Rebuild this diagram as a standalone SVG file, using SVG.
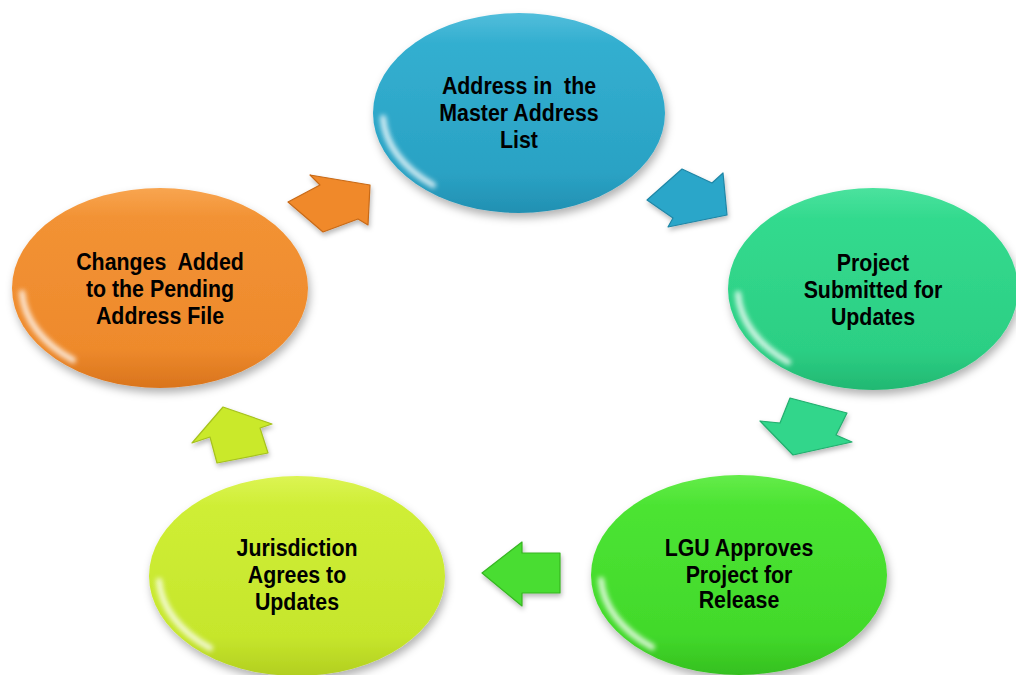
<svg xmlns="http://www.w3.org/2000/svg" width="1016" height="675" viewBox="0 0 1016 675">
<defs>
<filter id="shadow" x="-20%" y="-20%" width="140%" height="150%">
<feDropShadow dx="2" dy="5" stdDeviation="4" flood-color="#000" flood-opacity="0.3"/>
</filter>
<filter id="ashadow" x="-30%" y="-30%" width="160%" height="170%">
<feDropShadow dx="1" dy="3" stdDeviation="2.5" flood-color="#000" flood-opacity="0.28"/>
</filter>
<filter id="glow" x="-20%" y="-20%" width="140%" height="140%">
<feGaussianBlur stdDeviation="2.5"/>
</filter>
<linearGradient id="gBlue" x1="0" y1="0" x2="0" y2="1">
<stop offset="0" stop-color="#52BEDB"/><stop offset="0.15" stop-color="#33AFD0"/><stop offset="0.8" stop-color="#2AA2C4"/><stop offset="1" stop-color="#2290B2"/>
</linearGradient>
<linearGradient id="gTeal" x1="0" y1="0" x2="0" y2="1">
<stop offset="0" stop-color="#4BE29E"/><stop offset="0.15" stop-color="#33DA8E"/><stop offset="0.8" stop-color="#2CCF84"/><stop offset="1" stop-color="#22B872"/>
</linearGradient>
<linearGradient id="gGreen" x1="0" y1="0" x2="0" y2="1">
<stop offset="0" stop-color="#64EC4A"/><stop offset="0.15" stop-color="#4CE433"/><stop offset="0.8" stop-color="#42D92B"/><stop offset="1" stop-color="#35C01F"/>
</linearGradient>
<linearGradient id="gYellow" x1="0" y1="0" x2="0" y2="1">
<stop offset="0" stop-color="#DCF454"/><stop offset="0.15" stop-color="#CFEE35"/><stop offset="0.8" stop-color="#C6E62C"/><stop offset="1" stop-color="#B2CF20"/>
</linearGradient>
<linearGradient id="gOrange" x1="0" y1="0" x2="0" y2="1">
<stop offset="0" stop-color="#F8A550"/><stop offset="0.15" stop-color="#F29234"/><stop offset="0.8" stop-color="#EE8A2C"/><stop offset="1" stop-color="#D9741C"/>
</linearGradient>
<style>
.lbl{font-family:"Liberation Sans",Arial,sans-serif;font-weight:bold;font-size:24px;fill:#000;text-anchor:middle}
.hl{fill:none;stroke:#fff;stroke-width:6;stroke-linecap:round;opacity:0.8}
.arr{stroke-width:1.2;stroke-linejoin:round}
</style>
</defs>
<rect width="1016" height="675" fill="#fff"/>

<g id="connectors">
<polygon class="arr" filter="url(#ashadow)" fill="#F0892A" stroke="#C86A18" points="288,202 320,185 310,175 370,185 368,225 358,219 323,232"/>
<polygon class="arr" filter="url(#ashadow)" fill="#2CA6C9" stroke="#1F86A6" points="647,200 682,169 712,183 723,173 727,215 668,227 673,218"/>
<polygon class="arr" filter="url(#ashadow)" fill="#30D68B" stroke="#22AE6E" points="790,398 847,413 836,435 852,442 793,455 760,421 780,423"/>
<polygon class="arr" filter="url(#ashadow)" fill="#48DD30" stroke="#36B522" points="482,573 522,542 522,553 560,553 560,593 522,593 522,606"/>
<polygon class="arr" filter="url(#ashadow)" fill="#CAE92C" stroke="#A6C21C" points="223,407 272,424 260,428 268,453 217,463 210,437 192,443"/>
</g>

<g id="node-master" transform="translate(519 113)">
<ellipse rx="146" ry="100" fill="url(#gBlue)" filter="url(#shadow)"/>
<path class="hl" filter="url(#glow)" d="M -136 5 A 138 93 0 0 0 -86 72"/>
<g transform="scale(0.89 1)">
<text class="lbl" y="-19" xml:space="preserve">Address in  the</text>
<text class="lbl" y="8">Master Address</text>
<text class="lbl" y="35">List</text>
</g>
</g>

<g id="node-submitted" transform="translate(873 289)">
<ellipse rx="145" ry="101" fill="url(#gTeal)" filter="url(#shadow)"/>
<path class="hl" filter="url(#glow)" d="M -135 5 A 137 94 0 0 0 -85 73"/>
<g transform="scale(0.89 1)">
<text class="lbl" y="-18">Project</text>
<text class="lbl" y="9">Submitted for</text>
<text class="lbl" y="36">Updates</text>
</g>
</g>

<g id="node-lgu" transform="translate(739 575)">
<ellipse rx="148" ry="100" fill="url(#gGreen)" filter="url(#shadow)"/>
<path class="hl" filter="url(#glow)" d="M -138 5 A 140 93 0 0 0 -87 72"/>
<g transform="scale(0.89 1)">
<text class="lbl" y="-19">LGU Approves</text>
<text class="lbl" y="8">Project for</text>
<text class="lbl" y="33">Release</text>
</g>
</g>

<g id="node-jurisdiction" transform="translate(297 576)">
<ellipse rx="148" ry="100" fill="url(#gYellow)" filter="url(#shadow)"/>
<path class="hl" filter="url(#glow)" d="M -138 5 A 140 93 0 0 0 -87 72"/>
<g transform="scale(0.89 1)">
<text class="lbl" y="-20">Jurisdiction</text>
<text class="lbl" y="7">Agrees to</text>
<text class="lbl" y="34">Updates</text>
</g>
</g>

<g id="node-changes" transform="translate(160 288)">
<ellipse rx="148" ry="100" fill="url(#gOrange)" filter="url(#shadow)"/>
<path class="hl" filter="url(#glow)" d="M -138 5 A 140 93 0 0 0 -87 72"/>
<g transform="scale(0.89 1)">
<text class="lbl" y="-18" xml:space="preserve">Changes  Added</text>
<text class="lbl" y="9">to the Pending</text>
<text class="lbl" y="36">Address File</text>
</g>
</g>
</svg>
